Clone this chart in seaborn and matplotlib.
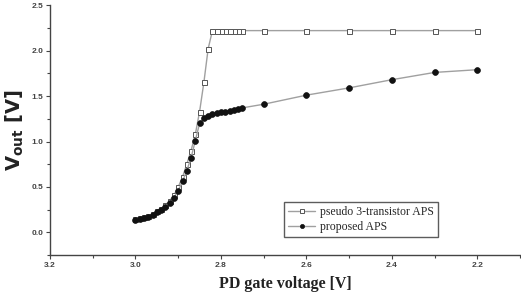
import numpy as np
import pandas as pd
import seaborn as sns
import matplotlib.pyplot as plt
from matplotlib.ticker import MultipleLocator

# PD gate voltage [V]
gate_dense = [3.00, 2.99, 2.98, 2.97, 2.96, 2.95, 2.94, 2.93, 2.92, 2.91,
              2.90, 2.89, 2.88, 2.87, 2.86, 2.85, 2.84, 2.83, 2.82, 2.81,
              2.80, 2.79, 2.78, 2.77, 2.76, 2.75]
gate_sparse = [2.70, 2.60, 2.50, 2.40, 2.30, 2.20]
gate = gate_dense + gate_sparse

# Vout [V]
pseudo_3t = [0.15, 0.16, 0.17, 0.18, 0.20, 0.23, 0.26, 0.30, 0.35, 0.41,
             0.50, 0.61, 0.75, 0.90, 1.08, 1.33, 1.65, 2.02, 2.22, 2.22,
             2.22, 2.22, 2.22, 2.22, 2.22, 2.22,
             2.22, 2.22, 2.22, 2.22, 2.22, 2.22]
proposed = [0.14, 0.15, 0.16, 0.17, 0.19, 0.22, 0.25, 0.28, 0.32, 0.38,
            0.46, 0.56, 0.68, 0.82, 1.01, 1.20, 1.26, 1.28, 1.30, 1.31,
            1.32, 1.33, 1.34, 1.35, 1.36, 1.37,
            1.41, 1.51, 1.59, 1.68, 1.76, 1.79]

df = pd.DataFrame({'gate': gate, 'pseudo': pseudo_3t, 'proposed': proposed})

sns.set_style('ticks')
plt.rcParams['mathtext.default'] = 'regular'

fig = plt.figure(figsize=(5.21, 3.03), dpi=100)
ax = fig.add_axes([0.096, 0.158, 0.904, 0.825])

sns.lineplot(data=df, x='gate', y='pseudo', ax=ax, color='#a0a0a0', lw=1.0,
             marker='s', markersize=3.6, markerfacecolor='white',
             markeredgecolor='#555555', markeredgewidth=0.7,
             label='pseudo 3-transistor APS')
sns.lineplot(data=df, x='gate', y='proposed', ax=ax, color='#a0a0a0', lw=1.0,
             marker='o', markersize=4.2, markerfacecolor='#111111',
             markeredgecolor='#111111', markeredgewidth=0.5,
             label='proposed APS')

ax.set_xlim(3.2, 2.098)
ax.set_ylim(-0.25, 2.5)
ax.xaxis.set_major_locator(MultipleLocator(0.2))
ax.xaxis.set_minor_locator(MultipleLocator(0.1))
ax.yaxis.set_major_locator(MultipleLocator(0.5))
ax.yaxis.set_minor_locator(MultipleLocator(0.25))
ax.tick_params(which='major', direction='out', length=3, width=0.8, color='#444444', pad=2)
ax.tick_params(which='minor', direction='out', length=2, width=0.8, color='#444444')
for lab in ax.get_xticklabels() + ax.get_yticklabels():
    lab.set_family('Liberation Sans')
    lab.set_fontweight('bold')
    lab.set_fontsize(6)
    lab.set_color('#444444')

sns.despine(ax=ax)
for s in ['left', 'bottom']:
    ax.spines[s].set_color('#444444')
    ax.spines[s].set_linewidth(1.0)

ax.set_xlabel('PD gate voltage [V]', family='Liberation Serif', fontweight='bold',
              fontsize=11.5, color='#222222', labelpad=5)
ax.set_ylabel('V$_{out}$ [V]', family='DejaVu Sans', fontweight='bold',
              fontsize=14, color='#222222', labelpad=4)

leg = ax.legend(loc='upper left', bbox_to_anchor=(284 / 521, 1 - 202 / 303),
                bbox_transform=fig.transFigure,
                prop={'family': 'Liberation Serif', 'size': 8.5},
                frameon=True, fancybox=False, edgecolor='#333333',
                handlelength=2.3, handletextpad=0.4, borderpad=0.35,
                labelspacing=0.25, borderaxespad=0)
leg.get_frame().set_linewidth(1.0)
for h in leg.legend_handles:
    h.set_markersize(3)

fig.savefig('out.png', dpi=100)
